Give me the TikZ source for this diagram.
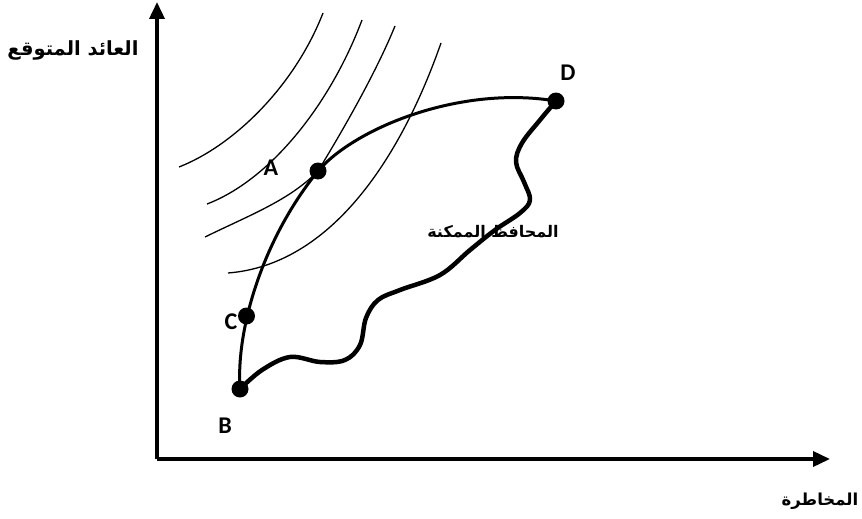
\documentclass[tikz,border=0pt]{standalone}
\usepackage{fontspec}
\usetikzlibrary{arrows.meta}
\TeXXeTstate=1
\newfontfamily\arabicfont[Script=Arabic]{DejaVu Sans}
\newfontfamily\latinlab{Carlito}
\begin{document}
\begin{tikzpicture}[x=1pt,y=-1pt,
  axis/.style={line width=3.6pt,-{Triangle[width=15pt,length=17pt]}},
  frontier/.style={line width=3pt},
  wavy/.style={line width=4.5pt,line cap=round,line join=round},
  indiff/.style={line width=1.3pt},
  dot/.style={circle,fill=black,inner sep=0pt,minimum size=17pt},
  ptlabel/.style={font=\latinlab\bfseries\fontsize{24}{28}\selectfont},
  arlabel/.style={font=\arabicfont\bfseries\fontsize{18}{22}\selectfont}]
\useasboundingbox (0,0) rectangle (862,519);
\coordinate (O) at (157,459);
\coordinate (ytip) at (157,2);
\coordinate (xtip) at (830,459);
\draw[axis] (O) -- (ytip);
\draw[axis] (O) -- (xtip);
\node[arlabel,font=\arabicfont\bfseries\fontsize{19.5}{23}\selectfont] (ylab) at (73,50) {\beginR العائد المتوقع\endR};
\node[arlabel,font=\arabicfont\bfseries\fontsize{16.5}{20}\selectfont] (xlab) at (820,501) {\beginR المخاطرة\endR};
% indifference curves
\draw[indiff] (179,167) .. controls (235,145) and (295,85) .. (323,13);
\draw[indiff] (207,204) .. controls (270,180) and (330,105) .. (362,20);
\draw[indiff] (205,237) .. controls (250,215) and (290,200) .. (318,171)
  .. controls (340,135) and (375,75) .. (395,26);
\draw[indiff] (228,273) .. controls (330,265) and (400,160) .. (441,43);
% labels
\node[ptlabel] (lA) at (271,168) {A};
\node[ptlabel] (lB) at (225,426) {B};
\node[ptlabel] (lC) at (231,322) {C};
\node[ptlabel] (lD) at (568,73) {D};
\node[arlabel,font=\arabicfont\bfseries\fontsize{16}{20}\selectfont] (feas) at (493,232) {\beginR المحافظ الممكنة\endR};
% points
\node[dot] (A) at (318,171) {};
\node[dot] (B) at (240,389) {};
\node[dot] (C) at (246.5,316) {};
\node[dot] (D) at (556,101) {};
% frontier
\draw[frontier] (B.center) .. controls (236,330) and (262,240) .. (A.center)
  .. controls (355,128) and (460,85) .. (D.center);
% feasible set lower boundary
\draw[wavy] plot[smooth,tension=0.6] coordinates {(556,101) (540,120) (522,143) (516,162) (524,182) (530,200) (520,213) (495,230) (470,250) (440,275) (400,290) (378,300) (366,318) (360,345) (345,360) (320,362) (290,357) (262,370) (240,389)};
\end{tikzpicture}
\end{document}
